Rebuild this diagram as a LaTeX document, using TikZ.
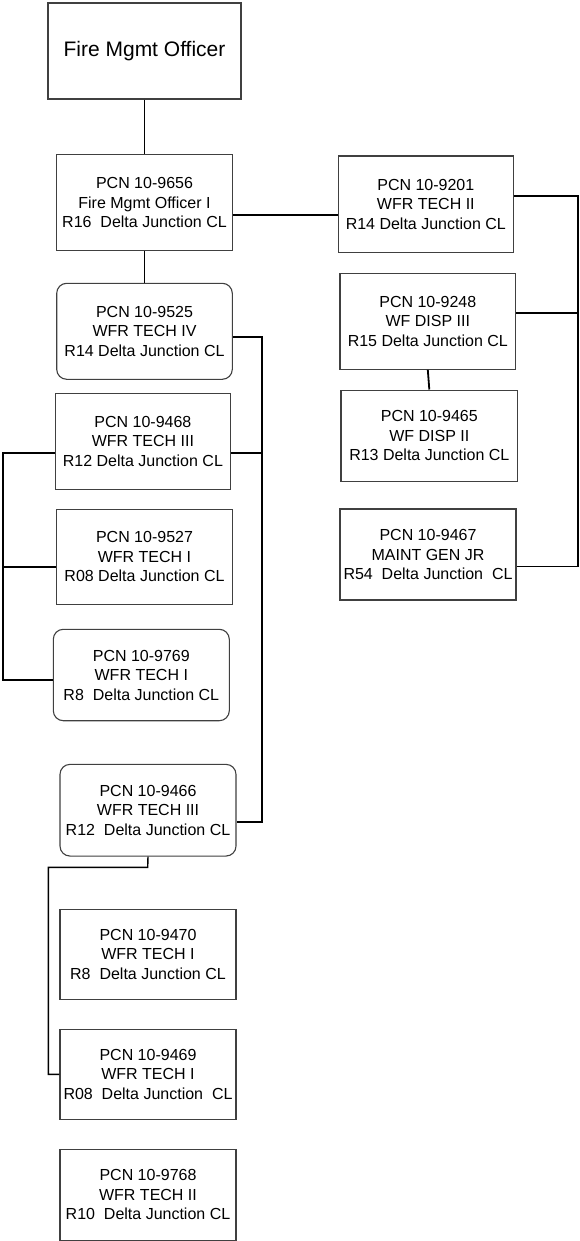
\documentclass[tikz,border=0pt]{standalone}
\usepackage{fontspec}
\setmainfont{Liberation Sans}
\begin{document}
\begin{tikzpicture}[x=1pt,y=-1pt,
  box/.style={draw=black!75, line width=1.1pt, fill=white, align=center, inner sep=0pt,
    font=\fontsize{16}{19.5}\selectfont, minimum width=176pt, minimum height=96pt},
  rbox/.style={box, rounded corners=10pt},
  conn/.style={draw=black, line width=1.8pt}]
\useasboundingbox (0,0) rectangle (580,1241);

% nodes
\node[box, minimum width=193pt, minimum height=96pt, font=\fontsize{21}{25}\selectfont] (top) at (144.5,51) {Fire Mgmt Officer};
\node[box, minimum width=175.6pt] (fmo1) at (144.5,202.7) {PCN 10-9656\\Fire Mgmt Officer I\\R16\ \ Delta Junction CL};
\node[rbox, minimum width=175.6pt] (t9525) at (144.5,331.3) {PCN 10-9525\\WFR TECH IV\\R14 Delta Junction CL};
\node[box, minimum width=175.7pt] (t9468) at (142.9,441.3) {PCN 10-9468\\WFR TECH III\\R12 Delta Junction CL};
\node[box, minimum width=175.6pt, minimum height=95.3pt] (t9527) at (144.5,556.7) {PCN 10-9527\\WFR TECH I\\R08 Delta Junction CL};
\node[rbox, minimum height=91.4pt] (t9769) at (141.3,675) {PCN 10-9769\\WFR TECH I\\R8\ \ Delta Junction CL};
\node[rbox, minimum height=91.7pt] (t9466) at (148,810.2) {PCN 10-9466\\WFR TECH III\\R12\ \ Delta Junction CL};
\node[box, minimum height=90.3pt] (t9470) at (148,954.2) {PCN 10-9470\\WFR TECH I\\R8\ \ Delta Junction CL};
\node[box, minimum height=90pt] (t9469) at (148,1074.3) {PCN 10-9469\\WFR TECH I\\R08\ \ Delta Junction\ \ CL};
\node[box, minimum height=90.7pt] (t9768) at (148,1194.7) {PCN 10-9768\\WFR TECH II\\R10\ \ Delta Junction CL};

\node[box, minimum width=175pt, minimum height=96.3pt] (t9201) at (425.8,204.2) {PCN 10-9201\\WFR TECH II\\R14 Delta Junction CL};
\node[box, minimum width=175.7pt] (t9248) at (427.8,321.3) {PCN 10-9248\\WF DISP III\\R15 Delta Junction CL};
\node[box, minimum width=176.7pt, minimum height=91.3pt] (t9465) at (429.3,435.7) {PCN 10-9465\\WF DISP II\\R13 Delta Junction CL};
\node[box, minimum height=91pt] (t9467) at (428,554.5) {PCN 10-9467\\MAINT GEN JR\\R54\ \ Delta Junction\ \ CL};

% bus coordinates
\coordinate (rb) at (578.3,0);
\coordinate (mb) at (262.3,0);
\coordinate (lb) at (3.3,0);
\coordinate (kneeA) at (147.7,867.3);
\coordinate (kneeB) at (48.3,867.3);

% connectors
\draw[conn] (top.south) -- (fmo1.north);
\draw[conn] (fmo1.south) -- (t9525.north);
\draw[conn] ([yshift=-12pt]fmo1.east) -- ([yshift=-12pt]fmo1.east -| t9201.west);

% right bus
\draw[conn] ([yshift=8.5pt]t9201.east) -- ([yshift=8.5pt]t9201.east -| rb) -- ([yshift=-12pt]t9467.east -| rb) -- ([yshift=-12pt]t9467.east);
\draw[conn] ([yshift=8pt]t9248.east) -- ([yshift=8pt]t9248.east -| rb);
\draw[conn] (t9248.south) -- (t9465.north);

% middle bus
\draw[conn] ([yshift=-6pt]t9525.east) -- ([yshift=-6pt]t9525.east -| mb) -- ([yshift=-12pt]t9466.east -| mb) -- ([yshift=-12pt]t9466.east);
\draw[conn] ([yshift=-12pt]t9468.east) -- ([yshift=-12pt]t9468.east -| mb);

% left bus
\draw[conn] ([yshift=-12pt]t9468.west) -- ([yshift=-12pt]t9468.west -| lb) -- ([yshift=-5pt]t9769.west -| lb) -- ([yshift=-5pt]t9769.west);
\draw[conn] ([yshift=-10pt]t9527.west) -- ([yshift=-10pt]t9527.west -| lb);

% 9466 to 9469
\draw[conn, line width=1.4pt] (t9466.south) -- (kneeA) -- (kneeB) -- (kneeB |- t9469.west) -- (t9469.west);
\end{tikzpicture}
\end{document}
